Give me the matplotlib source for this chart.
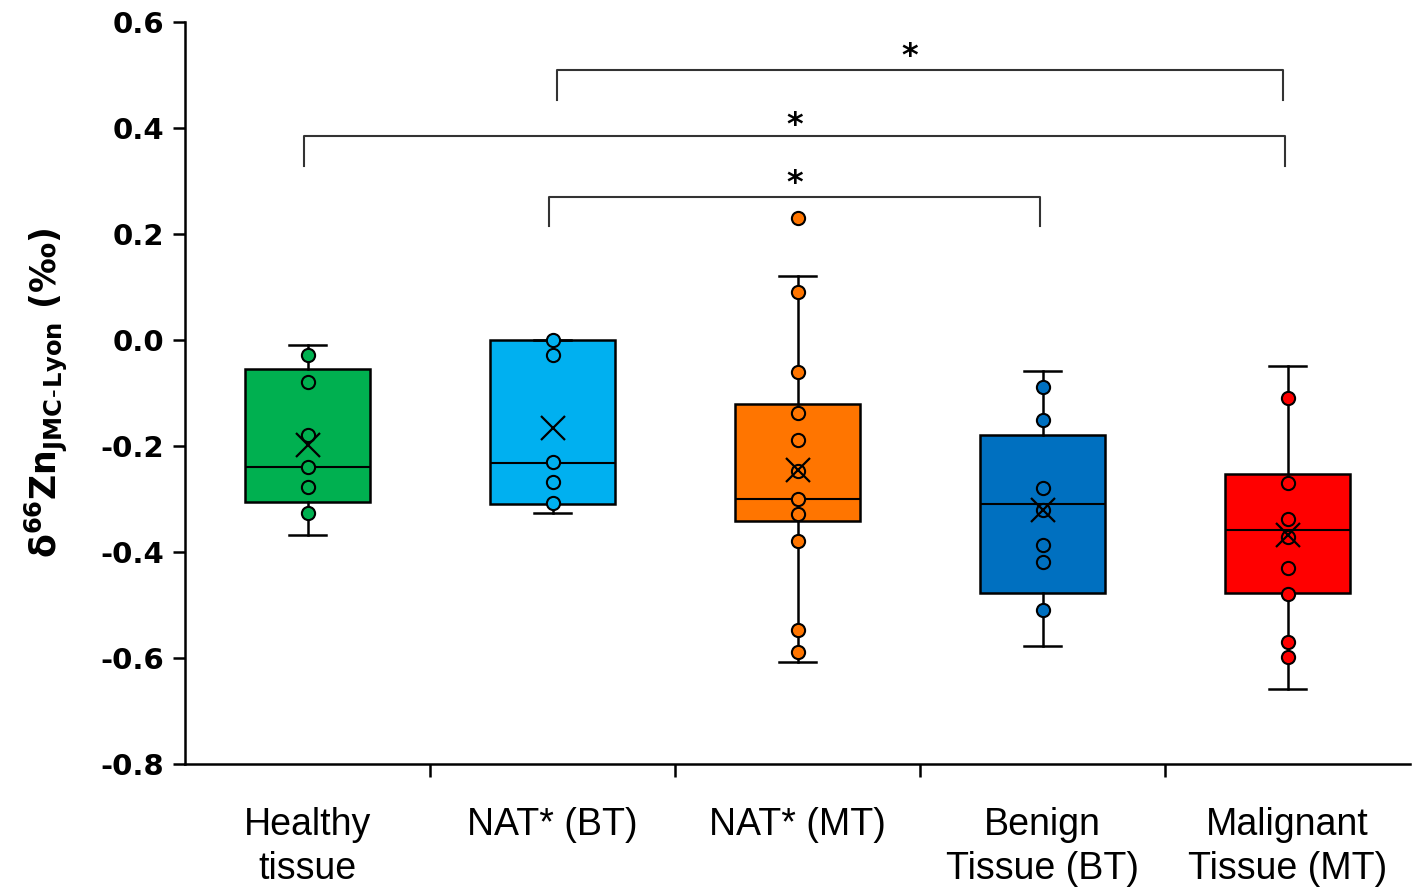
import matplotlib.pyplot as plt
import numpy as np

# groups and colours
groups = ['Healthy\ntissue', 'NAT* (BT)', 'NAT* (MT)', 'Benign\nTissue (BT)', 'Malignant\nTissue (MT)']
colors = ['#00B050', '#00B0F0', '#FF7500', '#0070C0', '#FF0000']

# box statistics
whis_lo = [-0.368, -0.327, -0.607, -0.577, -0.659]
q1 = [-0.305, -0.310, -0.341, -0.478, -0.478]
med = [-0.239, -0.232, -0.300, -0.309, -0.359]
q3 = [-0.055, 0.000, -0.120, -0.180, -0.253]
whis_hi = [-0.010, 0.000, 0.120, -0.058, -0.049]
means = [-0.198, -0.166, -0.245, -0.320, -0.368]

# individual samples
pts_healthy = [-0.028, -0.079, -0.179, -0.239, -0.278, -0.327]
pts_nat_bt = [0.0, -0.028, -0.230, -0.268, -0.308]
pts_nat_mt = [0.230, 0.091, -0.060, -0.138, -0.189, -0.248, -0.300, -0.328, -0.379, -0.548, -0.588]
pts_benign = [-0.089, -0.150, -0.279, -0.320, -0.387, -0.418, -0.509]
pts_malig = [-0.110, -0.269, -0.338, -0.371, -0.430, -0.479, -0.569, -0.598]
points = [pts_healthy, pts_nat_bt, pts_nat_mt, pts_benign, pts_malig]

# significance brackets: (left x, right x, bar level, leg end)
brackets = [(2.018, 4.98, 0.509, 0.453), (0.986, 4.99, 0.385, 0.328), (1.986, 3.99, 0.270, 0.215)]
stars = [(3.46, 0.535), (2.99, 0.405), (2.99, 0.295)]

plt.rcParams['mathtext.fontset'] = 'dejavusans'

fig = plt.figure(figsize=(14.16, 8.89), dpi=100)
ax = fig.add_axes([185 / 1416, 125 / 889, 1225 / 1416, 742 / 889])

pos = np.arange(1, len(groups) + 1)
stats = []
for i in range(len(groups)):
    stats.append(dict(whislo=whis_lo[i], q1=q1[i], med=med[i], q3=q3[i],
                      whishi=whis_hi[i], mean=means[i], fliers=[]))

bp = ax.bxp(stats, positions=pos, widths=0.51, capwidths=0.15, patch_artist=True,
            showfliers=False, showmeans=False,
            boxprops=dict(linewidth=1.8, edgecolor='black'),
            medianprops=dict(color='black', linewidth=1.5),
            whiskerprops=dict(color='black', linewidth=1.8),
            capprops=dict(color='black', linewidth=1.8), zorder=2)
for patch, c in zip(bp['boxes'], colors):
    patch.set_facecolor(c)

for i, vals in enumerate(points):
    ax.plot([pos[i]] * len(vals), vals, 'o', ms=9.5, mfc=colors[i], mec='black',
            mew=1.5, zorder=3)
    ax.plot(pos[i], means[i], 'x', ms=17, mec='black', mew=1.6, zorder=4)

for x0, x1, top, leg in brackets:
    ax.plot([x0, x0, x1, x1], [leg, top, top, leg], color='#333333', lw=1.5,
            solid_joinstyle='round', zorder=2)
for sx, sy in stars:
    ax.text(sx, sy, '*', ha='center', va='center', fontsize=23, fontweight='bold')

ax.set_xlim(0.5, len(groups) + 0.5)
ax.set_ylim(-0.8, 0.6)
yt = np.round(np.arange(-0.8, 0.61, 0.2), 1)
ax.set_yticks(yt)
ax.set_yticklabels(['%.1f' % (v + 0.0) for v in yt], fontsize=21, fontweight='bold',
                   family='DejaVu Sans')
ax.set_xticks(pos[:-1] + 0.5)
ax.set_xticklabels([])
ax.set_xticks(pos, minor=True)
ax.set_xticklabels(groups, minor=True, fontsize=27, family='Liberation Sans',
                   linespacing=1.3)
ax.tick_params(axis='x', which='minor', length=0, pad=31)
ax.tick_params(axis='x', which='major', length=9, width=1.8, direction='out')
ax.tick_params(axis='y', length=9, width=1.8, direction='out', pad=6)

for s in ['top', 'right']:
    ax.spines[s].set_visible(False)
for s in ['left', 'bottom']:
    ax.spines[s].set_linewidth(1.8)

ylab = r'$\mathbf{\delta^{66}}$Zn$_{\mathbf{JMC}}$' + '$_{\u2010}$' + r'$_{\mathbf{Lyon}}$ (‰)'
ax.set_ylabel(ylab, fontsize=25, fontweight='bold', labelpad=22)

fig.savefig('out.png', dpi=100)
